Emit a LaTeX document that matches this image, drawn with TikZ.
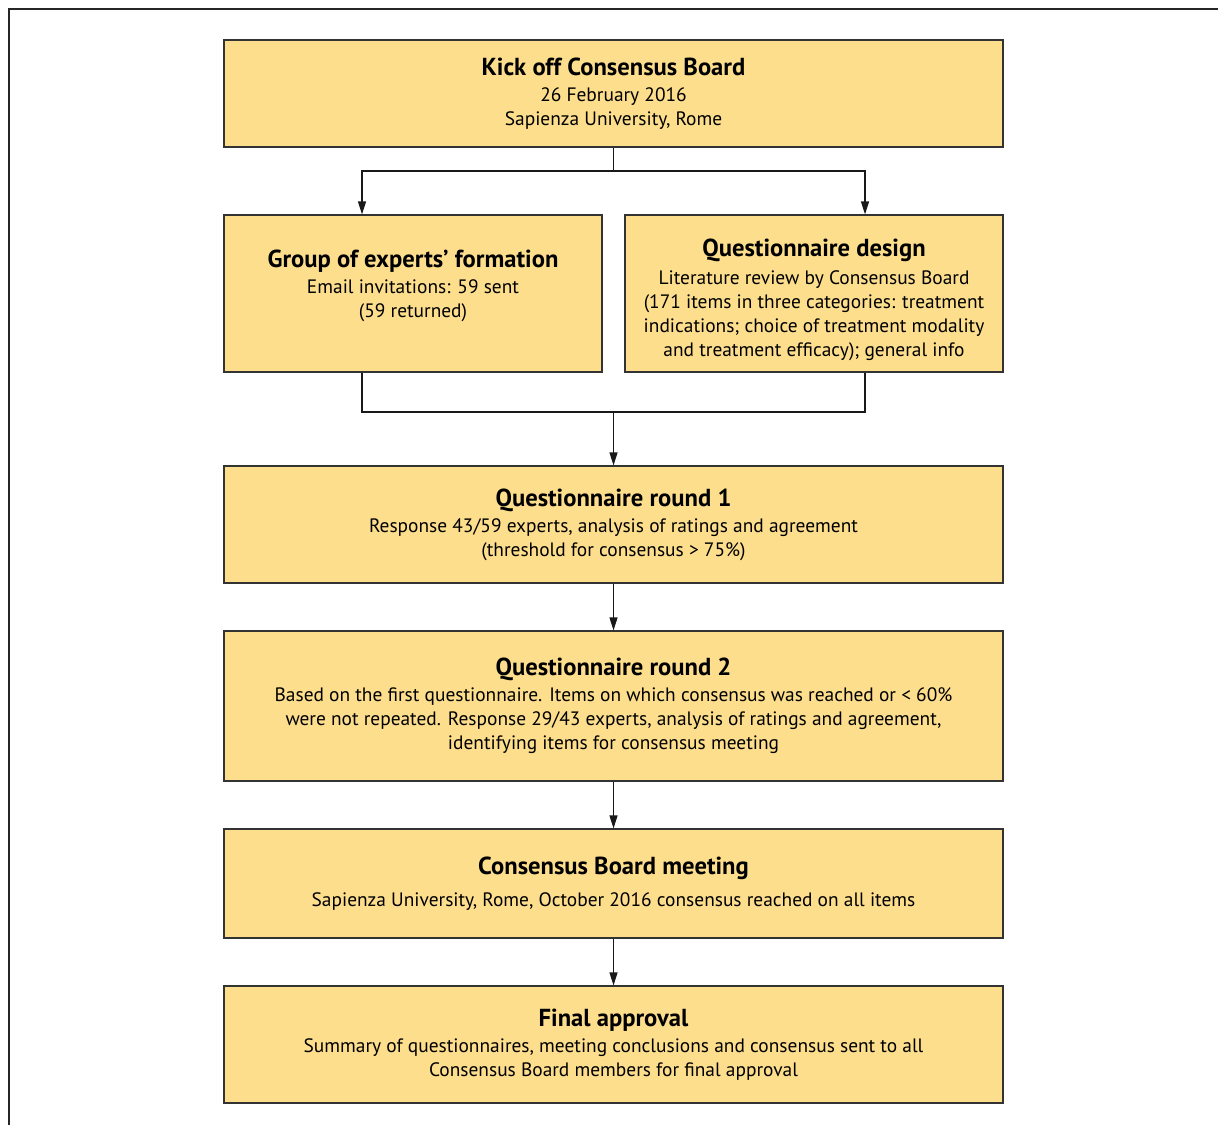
\documentclass[tikz,border=0pt]{standalone}
\usepackage{fontspec}
\setmainfont{PT Sans}
\usetikzlibrary{arrows.meta}
\definecolor{boxfill}{RGB}{253,222,141}
\newcommand{\boxtitle}[1]{{\fontsize{12.3}{14}\selectfont\bfseries #1}}
\begin{document}
\begin{tikzpicture}[x=0.5pt,y=-0.5pt,
	box/.style={draw=black!80,fill=boxfill,line width=0.6pt,align=center,inner sep=0pt,
		font=\fontsize{9.7}{12}\selectfont},
	widebox/.style={box,minimum width=389.5pt},
	halfbox/.style={box,minimum width=189pt,minimum height=78.5pt},
	arr/.style={-{Triangle[length=6.5pt,width=4pt]},line width=0.6pt,draw=black!90},
	link/.style={line width=0.6pt,draw=black!90}]
	\useasboundingbox (0,0) rectangle (1218,1125);
	\draw[line width=0.8pt,black!85] (9,1125) -- (9,9) -- (1218,9);%frame

	\node[widebox,minimum height=53.5pt] (kickoff) at (613.5,93.5)
		{\boxtitle{Kick off Consensus Board}\\[1pt] 26 February 2016\\ Sapienza University, Rome};
	\node[halfbox] (experts) at (413,293.5)
		{\boxtitle{Group of experts’ formation}\\[1pt] Email invitations: 59 sent\\ (59 returned)\rule[-9.5pt]{0pt}{9.5pt}};
	\node[halfbox] (design) at (814,293.5)
		{\boxtitle{\rule{0pt}{15pt}Questionnaire design}\\[2pt] Literature review by Consensus Board\\
		(171 items in three categories: treatment\\ indications; choice of treatment modality\\
		and treatment efficacy); general info};
	\node[widebox,minimum height=58.5pt] (roundone) at (613.5,524.5)
		{\boxtitle{Questionnaire round 1}\\[1pt] Response 43/59 experts, analysis of ratings and agreement\\
		(threshold for consensus > 75\%)};
	\node[widebox,minimum height=75pt] (roundtwo) at (613.5,706)
		{\boxtitle{Questionnaire round 2}\\[1pt] Based on the first questionnaire. Items on which consensus was reached or < 60\%\\
		were not repeated. Response 29/43 experts, analysis of ratings and agreement,\\
		identifying items for consensus meeting};
	\node[widebox,minimum height=54.5pt] (meeting) at (613.5,883.5)
		{\boxtitle{Consensus Board meeting}\\[4pt] Sapienza University, Rome, October 2016 consensus reached on all items};
	\node[widebox,minimum height=58.5pt] (approval) at (613.5,1044.5)
		{\boxtitle{Final approval}\\[1pt] Summary of questionnaires, meeting conclusions and consensus sent to all\\
		Consensus Board members for final approval};

	\coordinate (split) at (613.5,171);%fork below kick off
	\coordinate (leftx) at (362,0);
	\coordinate (rightx) at (865,0);
	\coordinate (join) at (613.5,412);%merge below the two boxes

	\draw[link] (kickoff.south) -- (split);
	\draw[arr] (split) -| (experts.north -| leftx);
	\draw[arr] (split) -| (design.north -| rightx);
	\draw[link] (experts.south -| leftx) |- (join) -| (design.south -| rightx);
	\draw[arr] (join) -- (roundone.north);
	\draw[arr] (roundone) -- (roundtwo);
	\draw[arr] (roundtwo) -- (meeting);
	\draw[arr] (meeting) -- (approval);

\end{tikzpicture}
\end{document}
